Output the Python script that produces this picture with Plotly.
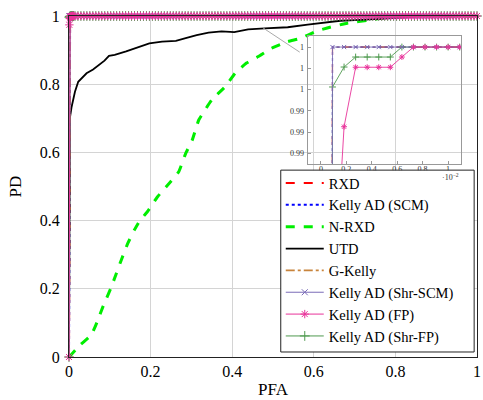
import numpy as np
import plotly.graph_objects as go

# ---------------- data ----------------
# PFA grid for the detector sweeps (fine part visible in inset, coarse part for the rest)
pfa_fine = [0.0, 0.00091, 0.00182, 0.00273, 0.00364, 0.00455, 0.00546,
            0.00637, 0.00728, 0.00819, 0.0091, 0.01001, 0.01092]
pfa_coarse = list(np.round(np.linspace(0.0146, 1.0, 136), 4))
pfa_grid = pfa_fine + pfa_coarse
n = len(pfa_grid)

pd_rxd = [0.0] + [1.0] * (n - 1)
pd_scm = [0.0] + [1.0] * (n - 1)
pd_gkelly = [0.0] + [1.0] * (n - 1)
pd_shr_scm = [0.0] + [1.0] * (n - 1)
pd_fp = [0.0, 0.974, 0.9925, 0.9981, 0.9981, 0.9981, 0.9981, 0.99906] + [1.0] * (n - 8)
pd_shr_fp = [0.0, 0.99624, 0.99812, 0.99906, 0.99906, 0.99906, 0.99906] + [1.0] * (n - 7)

utd_pfa = [0, 0.0005, 0.002, 0.0065, 0.0146, 0.0226, 0.031, 0.043, 0.059, 0.075,
           0.087, 0.098, 0.112, 0.140, 0.172, 0.197, 0.228, 0.262, 0.286, 0.313,
           0.342, 0.374, 0.405, 0.439, 0.480, 0.536, 0.585, 0.633, 0.665, 0.70,
           0.747, 0.79, 0.828, 0.85, 0.9, 1.0]
utd_pd = [0, 0.60, 0.70, 0.734, 0.778, 0.807, 0.817, 0.832, 0.843, 0.859,
          0.869, 0.883, 0.886, 0.896, 0.910, 0.920, 0.925, 0.927, 0.935, 0.944,
          0.951, 0.955, 0.953, 0.961, 0.964, 0.967, 0.975, 0.982, 0.986, 0.988,
          0.991, 0.994, 0.996, 1.0, 1.0, 1.0]

nrxd_pfa = [0, 0.001, 0.027, 0.055, 0.071, 0.083, 0.104, 0.116, 0.128, 0.144,
            0.160, 0.172, 0.192, 0.217, 0.249, 0.269, 0.286, 0.302, 0.318, 0.350,
            0.383, 0.407, 0.435, 0.464, 0.496, 0.536, 0.569, 0.605, 0.633, 0.682,
            0.747, 0.771, 0.80, 1.0]
nrxd_pd = [0, 0.001, 0.035, 0.065, 0.109, 0.147, 0.206, 0.245, 0.284, 0.333,
           0.372, 0.397, 0.426, 0.47, 0.514, 0.543, 0.597, 0.636, 0.695, 0.754,
           0.793, 0.832, 0.862, 0.881, 0.905, 0.925, 0.935, 0.955, 0.965, 0.979,
           0.99, 0.995, 1.0, 1.0]

x_ticks = [0, 0.2, 0.4, 0.6, 0.8, 1]
x_ticktext = ["0", "0.2", "0.4", "0.6", "0.8", "1"]
y_ticks = [0, 0.2, 0.4, 0.6, 0.8, 1]
y_ticktext = ["0", "0.2", "0.4", "0.6", "0.8", "1"]

inset_x_ticks = [0, 0.002, 0.004, 0.006, 0.008, 0.01]
inset_x_ticktext = ["0", "0.2", "0.4", "0.6", "0.8", "1"]
inset_y_ticks = [0.990, 0.992, 0.994, 0.996, 0.998, 1.0]
inset_y_ticktext = ["0.99", "0.99", "0.99", "1", "1", "1"]

# ---------------- styles ----------------
FONT = "Liberation Serif"
C_RXD = "#ff0000"
C_SCM = "#0000ff"
C_NRXD = "#00ee00"
C_UTD = "#000000"
C_GK = "#c8843c"
C_SHRSCM = "#7a6cb8"
C_FP = "#e8339a"
C_SHRFP = "#4f9a4f"

fig = go.Figure()

def add_set(xa, ya, main):
    lw = 1.0 if main else 0.9
    ms = 1.0 if main else 0.7
    sl = main
    clip = not main
    fig.add_trace(go.Scatter(x=pfa_grid, y=pd_rxd, name="RXD", mode="lines", legendrank=1,
                             line=dict(color=C_RXD, width=2 if main else 1.2, dash="dash"),
                             xaxis=xa, yaxis=ya, showlegend=sl))
    fig.add_trace(go.Scatter(x=pfa_grid, y=pd_scm, name="Kelly AD (SCM)", mode="lines", legendrank=2,
                             line=dict(color=C_SCM, width=2 if main else 1.2, dash="dot"),
                             xaxis=xa, yaxis=ya, showlegend=sl))
    if main:
        fig.add_trace(go.Scatter(x=nrxd_pfa, y=nrxd_pd, name="N-RXD", mode="lines", legendrank=3,
                                 line=dict(color=C_NRXD, width=3, dash="dash", shape="spline", smoothing=0.3),
                                 xaxis=xa, yaxis=ya, showlegend=sl))
        fig.add_trace(go.Scatter(x=utd_pfa, y=utd_pd, name="UTD", mode="lines", legendrank=4,
                                 line=dict(color=C_UTD, width=1.8),
                                 xaxis=xa, yaxis=ya, showlegend=sl))
    fig.add_trace(go.Scatter(x=pfa_grid, y=pd_gkelly, name="G-Kelly", mode="lines", legendrank=5,
                             line=dict(color=C_GK, width=1.6 if main else 1, dash="dashdot"),
                             xaxis=xa, yaxis=ya, showlegend=sl))
    fig.add_trace(go.Scatter(x=pfa_grid, y=pd_shr_fp, name="Kelly AD (Shr-FP)", mode="lines+markers",
                             legendrank=8, cliponaxis=clip,
                             line=dict(color=C_SHRFP, width=lw),
                             marker=dict(symbol="cross-thin", size=7 * ms, line=dict(color=C_SHRFP, width=1)),
                             xaxis=xa, yaxis=ya, showlegend=sl))
    fig.add_trace(go.Scatter(x=pfa_grid, y=pd_shr_scm, name="Kelly AD (Shr-SCM)", mode="lines+markers",
                             legendrank=6, cliponaxis=clip,
                             line=dict(color=C_SHRSCM, width=lw),
                             marker=dict(symbol="x-thin", size=6 * ms, line=dict(color=C_SHRSCM, width=1)),
                             xaxis=xa, yaxis=ya, showlegend=sl))
    fig.add_trace(go.Scatter(x=pfa_grid, y=pd_fp, name="Kelly AD (FP)", mode="lines+markers",
                             legendrank=7, cliponaxis=clip,
                             line=dict(color=C_FP, width=lw),
                             marker=dict(symbol="asterisk", size=7 * ms, line=dict(color=C_FP, width=1)),
                             xaxis=xa, yaxis=ya, showlegend=sl))

add_set("x", "y", True)
add_set("x2", "y2", False)

fig.update_layout(
    width=483, height=400,
    margin=dict(l=69, r=2, t=16, b=43),
    paper_bgcolor="white", plot_bgcolor="rgba(0,0,0,0)",
    font=dict(family=FONT, size=16, color="black"),
    xaxis=dict(domain=[0, 1], range=[0, 1], tickvals=x_ticks, ticktext=x_ticktext,
               showgrid=True, gridcolor="#d4d4d4", gridwidth=1, zeroline=False,
               showline=True, linecolor="#222", linewidth=1, mirror=True,
               ticks="", ticklabelstandoff=0, ticklabeloverflow="allow",
               tickfont=dict(family=FONT, size=16)),
    yaxis=dict(domain=[0, 1], range=[0, 1], tickvals=y_ticks, ticktext=y_ticktext,
               showgrid=True, gridcolor="#d4d4d4", gridwidth=1, zeroline=False,
               showline=True, linecolor="#222", linewidth=1, mirror=True,
               ticks="", ticklabelstandoff=5, ticklabeloverflow="allow",
               tickfont=dict(family=FONT, size=16)),
    xaxis2=dict(domain=[0.587, 0.961], anchor="y2", range=[-0.00098, 0.01103],
                tickvals=inset_x_ticks, ticktext=inset_x_ticktext,
                showgrid=False, zeroline=False, showline=True, linecolor="#999",
                linewidth=1, mirror=True, ticks="inside", ticklen=3, tickcolor="#999",
                ticklabelstandoff=-3, ticklabeloverflow="allow",
                tickfont=dict(family=FONT, size=8, color="#333")),
    yaxis2=dict(domain=[0.566, 0.941], anchor="x2", range=[0.98899, 1.00103],
                tickvals=inset_y_ticks, ticktext=inset_y_ticktext,
                showgrid=False, zeroline=False, showline=True, linecolor="#999",
                linewidth=1, mirror=True, ticks="inside", ticklen=3, tickcolor="#999",
                ticklabelstandoff=2, ticklabeloverflow="allow",
                tickfont=dict(family=FONT, size=8, color="#333")),
    legend=dict(x=0.519, y=0.557, xanchor="left", yanchor="top",
                bgcolor="rgba(0,0,0,0)", borderwidth=0,
                font=dict(family=FONT, size=14.5), tracegroupgap=0,
                itemwidth=38, traceorder="normal"),
    showlegend=True,
)

# legend frame (white box with black border), drawn above the plot area
fig.add_shape(type="rect", xref="paper", yref="paper", layer="above",
              x0=0.519, x1=0.993, y0=0.0147, y1=0.548,
              fillcolor="white", line=dict(color="#222", width=1))

fig.add_annotation(text="PD", x=0, y=0.5, xref="paper", yref="paper",
                   xanchor="center", yanchor="middle", xshift=-54, textangle=-90,
                   showarrow=False, font=dict(family=FONT, size=17))
fig.add_annotation(text="PFA", x=0.5, y=0, xref="paper", yref="paper",
                   xanchor="center", yanchor="middle", yshift=-32,
                   showarrow=False, font=dict(family=FONT, size=17))
fig.add_annotation(text="·10<sup>−2</sup>", x=0.934, y=0.528, xref="paper", yref="paper",
                   xanchor="center", yanchor="middle", showarrow=False,
                   font=dict(family=FONT, size=8, color="#333"))
fig.add_shape(type="line", xref="paper", yref="paper",
              x0=0.4757, y0=0.965, x1=0.5655, y1=0.894,
              line=dict(color="#aaaaaa", width=1))

fig.write_html("out.html")
